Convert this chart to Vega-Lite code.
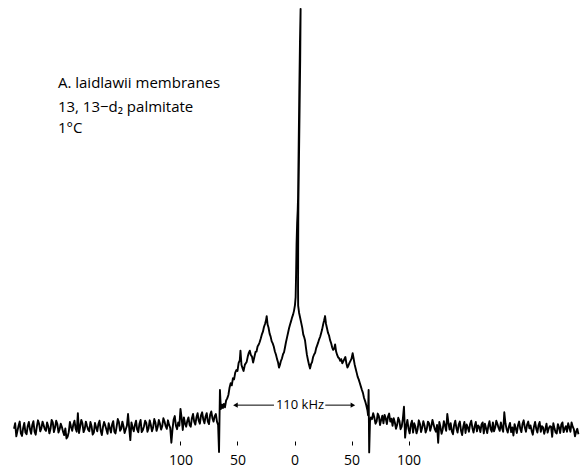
{
  "$schema": "https://vega.github.io/schema/vega-lite/v6.json",
  "width": 584,
  "height": 441,
  "autosize": {"type": "none"},
  "padding": {"left": 0, "right": 0, "top": 0, "bottom": 29},
  "background": "white",
  "config": {
    "view": {"stroke": null},
    "font": "Open Sans",
    "axisX": {"domain": false, "grid": false, "tickSize": 4, "tickColor": "black", "tickWidth": 1, "labelPadding": 8, "labelFontSize": 14, "labelColor": "black", "labelFont": "Open Sans"}
  },
  "datasets": {
    "spectrum": [
      {"khz":-246,"amp":0.3},{"khz":-245,"amp":1.6},{"khz":-244,"amp":-1.5},{"khz":-243,"amp":-0.2},{"khz":-242,"amp":1.0},{"khz":-241,"amp":2.0},{"khz":-240,"amp":-0.8},{"khz":-239,"amp":-1.4},{"khz":-238,"amp":0.5},{"khz":-237,"amp":1.7},
      {"khz":-236,"amp":-0.6},{"khz":-235,"amp":-1.0},{"khz":-234,"amp":0.9},{"khz":-233,"amp":1.9},{"khz":-232,"amp":0.2},{"khz":-231,"amp":-0.9},{"khz":-230,"amp":1.2},{"khz":-229,"amp":2.1},{"khz":-228,"amp":-0.4},{"khz":-227,"amp":-1.1},
      {"khz":-226,"amp":0.8},{"khz":-225,"amp":2.3},{"khz":-224,"amp":1.5},{"khz":-223,"amp":-0.3},{"khz":-222,"amp":0.4},{"khz":-221,"amp":2.0},{"khz":-220,"amp":1.1},{"khz":-219,"amp":0.2},{"khz":-218,"amp":-0.2},{"khz":-217,"amp":1.8},
      {"khz":-216,"amp":0.9},{"khz":-215,"amp":-0.8},{"khz":-214,"amp":0.3},{"khz":-213,"amp":2.4},{"khz":-212,"amp":1.8},{"khz":-211,"amp":-0.5},{"khz":-210,"amp":0.6},{"khz":-209,"amp":2.2},{"khz":-208,"amp":1.4},{"khz":-207,"amp":-0.6},
      {"khz":-206,"amp":0.2},{"khz":-205,"amp":1.5},{"khz":-204,"amp":0.7},{"khz":-203,"amp":-0.4},{"khz":-202,"amp":-1.2},{"khz":-201,"amp":0.4},{"khz":-200,"amp":-2.0},{"khz":-199,"amp":-1.6},{"khz":-198,"amp":-0.5},{"khz":-197,"amp":1.9},
      {"khz":-196,"amp":0.8},{"khz":-195,"amp":-0.2},{"khz":-194,"amp":1.3},{"khz":-193,"amp":2.2},{"khz":-192,"amp":0.4},{"khz":-191,"amp":-0.4},{"khz":-190,"amp":4.0},{"khz":-189,"amp":-0.7},{"khz":-188,"amp":0.8},{"khz":-187,"amp":2.4},
      {"khz":-186,"amp":1.6},{"khz":-185,"amp":-0.5},{"khz":-184,"amp":0.2},{"khz":-183,"amp":2.0},{"khz":-182,"amp":1.0},{"khz":-181,"amp":0.1},{"khz":-180,"amp":-0.3},{"khz":-179,"amp":1.9},{"khz":-178,"amp":0.9},{"khz":-177,"amp":-1.1},
      {"khz":-176,"amp":-0.6},{"khz":-175,"amp":1.7},{"khz":-174,"amp":0.6},{"khz":-173,"amp":-0.3},{"khz":-172,"amp":1.4},{"khz":-171,"amp":2.2},{"khz":-170,"amp":-0.1},{"khz":-169,"amp":-1.2},{"khz":-168,"amp":0.7},{"khz":-167,"amp":1.9},
      {"khz":-166,"amp":1.1},{"khz":-165,"amp":0.1},{"khz":-164,"amp":-0.9},{"khz":-163,"amp":1.6},{"khz":-162,"amp":0.5},{"khz":-161,"amp":-0.6},{"khz":-160,"amp":1.3},{"khz":-159,"amp":2.1},{"khz":-158,"amp":-0.4},{"khz":-157,"amp":-0.8},
      {"khz":-156,"amp":0.8},{"khz":-155,"amp":2.6},{"khz":-154,"amp":1.9},{"khz":-153,"amp":-0.2},{"khz":-152,"amp":0.3},{"khz":-151,"amp":2.0},{"khz":-150,"amp":0.9},{"khz":-149,"amp":-0.7},{"khz":-148,"amp":0.2},{"khz":-147,"amp":1.0},
      {"khz":-146,"amp":3.8},{"khz":-145,"amp":0.5},{"khz":-144,"amp":-2.4},{"khz":-143,"amp":1.8},{"khz":-142,"amp":0.6},{"khz":-141,"amp":-0.3},{"khz":-140,"amp":1.2},{"khz":-139,"amp":2.2},{"khz":-138,"amp":0.1},{"khz":-137,"amp":-0.5},
      {"khz":-136,"amp":1.5},{"khz":-135,"amp":2.4},{"khz":-134,"amp":-0.5},{"khz":-133,"amp":0.0},{"khz":-132,"amp":0.9},{"khz":-131,"amp":2.2},{"khz":-130,"amp":1.7},{"khz":-129,"amp":-0.4},{"khz":-128,"amp":0.4},{"khz":-127,"amp":2.3},
      {"khz":-126,"amp":1.2},{"khz":-125,"amp":-0.3},{"khz":-124,"amp":0.6},{"khz":-123,"amp":2.6},{"khz":-122,"amp":1.8},{"khz":-121,"amp":-0.2},{"khz":-120,"amp":0.7},{"khz":-119,"amp":2.4},{"khz":-118,"amp":1.5},{"khz":-117,"amp":0.1},
      {"khz":-116,"amp":0.9},{"khz":-115,"amp":2.8},{"khz":-114,"amp":2.0},{"khz":-113,"amp":0.9},{"khz":-112,"amp":0.3},{"khz":-111,"amp":2.3},{"khz":-110,"amp":1.2},{"khz":-109,"amp":0.5},{"khz":-108,"amp":-3.0},{"khz":-107,"amp":0.2},
      {"khz":-106,"amp":2.5},{"khz":-105,"amp":3.3},{"khz":-104,"amp":1.0},{"khz":-103,"amp":0.2},{"khz":-102,"amp":1.8},{"khz":-101,"amp":1.0},{"khz":-100,"amp":5.0},{"khz":-99,"amp":2.8},{"khz":-98,"amp":0.0},{"khz":-97,"amp":3.0},
      {"khz":-96,"amp":1.5},{"khz":-95,"amp":0.8},{"khz":-94,"amp":2.2},{"khz":-93,"amp":3.0},{"khz":-92,"amp":1.2},{"khz":-91,"amp":0.8},{"khz":-90,"amp":2.8},{"khz":-89,"amp":3.8},{"khz":-88,"amp":2.0},{"khz":-87,"amp":1.3},
      {"khz":-86,"amp":3.0},{"khz":-85,"amp":4.0},{"khz":-84,"amp":2.2},{"khz":-83,"amp":1.5},{"khz":-82,"amp":3.5},{"khz":-81,"amp":4.2},{"khz":-80,"amp":2.5},{"khz":-79,"amp":1.6},{"khz":-78,"amp":3.2},{"khz":-77,"amp":4.0},
      {"khz":-76,"amp":2.0},{"khz":-75,"amp":1.4},{"khz":-74,"amp":3.6},{"khz":-73,"amp":4.4},{"khz":-72,"amp":2.8},{"khz":-71,"amp":2.0},{"khz":-70,"amp":3.3},{"khz":-69,"amp":3.8},{"khz":-68,"amp":2.0},
      {"khz":-67,"amp":1.2},{"khz":-66.2,"amp":-5.2},{"khz":-65.4,"amp":9.5},{"khz":-64.6,"amp":5.0},{"khz":-63.6,"amp":6.0},{"khz":-62.8,"amp":5.2},{"khz":-62,"amp":6.2},{"khz":-61,"amp":5.4},{"khz":-60,"amp":7.0},{"khz":-59,"amp":7.5},
      {"khz":-58,"amp":8.3},{"khz":-57,"amp":10.0},{"khz":-56,"amp":11.1},{"khz":-55,"amp":10.6},{"khz":-54,"amp":12.3},{"khz":-53,"amp":12.0},{"khz":-52,"amp":13.6},{"khz":-51,"amp":14.2},{"khz":-50,"amp":14.0},{"khz":-49,"amp":15.9},
      {"khz":-48,"amp":16.5},{"khz":-47.4,"amp":18.8},{"khz":-46.5,"amp":15.4},{"khz":-45.5,"amp":14.6},{"khz":-44.7,"amp":14.0},{"khz":-43.5,"amp":15.5},{"khz":-42,"amp":16.1},{"khz":-41,"amp":17.4},{"khz":-40.2,"amp":18.2},{"khz":-39.2,"amp":18.8},
      {"khz":-38.3,"amp":17.8},{"khz":-37.3,"amp":17.4},{"khz":-36.3,"amp":16.0},{"khz":-35.3,"amp":17.2},{"khz":-34.2,"amp":18.5},{"khz":-33.3,"amp":18.6},{"khz":-32.4,"amp":19.8},{"khz":-31.5,"amp":20.2},{"khz":-30.6,"amp":20.8},{"khz":-29.6,"amp":21.7},
      {"khz":-28.7,"amp":22.6},{"khz":-27.7,"amp":23.3},{"khz":-26.8,"amp":24.4},{"khz":-25.8,"amp":25.2},{"khz":-25,"amp":26.0},{"khz":-24.4,"amp":27.0},{"khz":-23.6,"amp":25.0},{"khz":-22.8,"amp":24.3},{"khz":-21.8,"amp":22.8},{"khz":-21,"amp":22.2},
      {"khz":-20,"amp":21.0},{"khz":-19.2,"amp":20.6},{"khz":-18.2,"amp":19.8},{"khz":-17.2,"amp":18.6},{"khz":-16.3,"amp":17.9},{"khz":-15.3,"amp":16.8},{"khz":-14.4,"amp":16.0},{"khz":-13.6,"amp":14.8},{"khz":-12.8,"amp":15.4},{"khz":-12,"amp":16.3},
      {"khz":-11,"amp":17.0},{"khz":-10,"amp":18.0},{"khz":-9.2,"amp":18.4},{"khz":-8.4,"amp":19.5},{"khz":-7.5,"amp":20.8},{"khz":-6.6,"amp":21.9},{"khz":-5.7,"amp":23.0},{"khz":-4.8,"amp":24.1},{"khz":-3.9,"amp":25.0},{"khz":-3,"amp":25.8},
      {"khz":-2.1,"amp":26.7},{"khz":-1.2,"amp":27.4},{"khz":-0.4,"amp":28.3},{"khz":0.4,"amp":29.6},{"khz":1.0,"amp":31.5},{"khz":1.4,"amp":37.0},{"khz":1.8,"amp":44.0},{"khz":2.3,"amp":49.0},{"khz":2.8,"amp":52.0},{"khz":3.1,"amp":55.0},
      {"khz":3.6,"amp":66.0},{"khz":4.2,"amp":80.0},{"khz":4.8,"amp":92.0},{"khz":5.35,"amp":99.8},{"khz":5.0,"amp":88.0},{"khz":4.5,"amp":77.0},{"khz":3.9,"amp":64.0},{"khz":3.4,"amp":54.0},{"khz":3.3,"amp":49.0},{"khz":3.2,"amp":42.0},
      {"khz":3.1,"amp":34.0},{"khz":3.2,"amp":29.5},{"khz":4.0,"amp":27.8},{"khz":4.8,"amp":26.8},{"khz":5.8,"amp":25.5},{"khz":6.8,"amp":24.2},{"khz":7.7,"amp":22.6},{"khz":8.5,"amp":22.0},{"khz":9.2,"amp":21.3},{"khz":10,"amp":19.6},
      {"khz":10.9,"amp":17.8},{"khz":11.8,"amp":16.6},{"khz":12.7,"amp":15.5},{"khz":13.6,"amp":14.6},{"khz":14.5,"amp":15.6},{"khz":15.4,"amp":16.1},{"khz":16.3,"amp":17.3},{"khz":17.2,"amp":17.9},{"khz":18.1,"amp":18.3},{"khz":19,"amp":19.4},
      {"khz":19.8,"amp":20.0},{"khz":20.7,"amp":20.7},{"khz":21.6,"amp":21.5},{"khz":22.5,"amp":22.1},{"khz":23.4,"amp":23.0},{"khz":24.2,"amp":23.8},{"khz":25.1,"amp":25.0},{"khz":26,"amp":26.0},{"khz":26.8,"amp":27.0},{"khz":27.6,"amp":25.2},
      {"khz":28.5,"amp":24.1},{"khz":29.4,"amp":23.0},{"khz":30.3,"amp":22.4},{"khz":31.2,"amp":21.3},{"khz":32.1,"amp":20.6},{"khz":33,"amp":19.6},{"khz":33.9,"amp":19.0},{"khz":34.8,"amp":19.3},{"khz":35.6,"amp":20.3},{"khz":36.5,"amp":18.6},
      {"khz":37.4,"amp":17.8},{"khz":38.3,"amp":17.2},{"khz":39.2,"amp":17.0},{"khz":40.1,"amp":16.4},{"khz":41,"amp":16.8},{"khz":41.9,"amp":15.8},{"khz":42.8,"amp":16.3},{"khz":43.7,"amp":16.8},{"khz":44.6,"amp":17.3},{"khz":45.5,"amp":15.8},
      {"khz":46.4,"amp":14.8},{"khz":47.3,"amp":15.3},{"khz":48.2,"amp":15.9},{"khz":49.1,"amp":16.4},{"khz":50,"amp":16.9},{"khz":51,"amp":18.2},{"khz":51.8,"amp":17.0},{"khz":52.7,"amp":15.6},{"khz":53.6,"amp":14.6},{"khz":54.5,"amp":13.6},
      {"khz":55.4,"amp":12.6},{"khz":56.3,"amp":12.0},{"khz":57.2,"amp":11.2},{"khz":58.1,"amp":10.4},{"khz":59,"amp":9.6},{"khz":60,"amp":8.8},{"khz":61,"amp":7.6},{"khz":62,"amp":6.8},{"khz":63,"amp":5.8},{"khz":64,"amp":4.6},
      {"khz":64.5,"amp":3.5},{"khz":65,"amp":9.5},{"khz":65.5,"amp":-5.3},{"khz":66.2,"amp":2.0},{"khz":67,"amp":3.0},
      {"khz":68,"amp":2.6},{"khz":69,"amp":4.0},{"khz":70,"amp":3.0},{"khz":71,"amp":1.5},{"khz":72,"amp":2.0},{"khz":73,"amp":3.9},{"khz":74,"amp":3.3},{"khz":75,"amp":1.2},{"khz":76,"amp":2.4},{"khz":77,"amp":3.4},
      {"khz":78,"amp":1.6},{"khz":79,"amp":3.6},{"khz":80,"amp":2.8},{"khz":81,"amp":1.4},{"khz":82,"amp":3.2},{"khz":83,"amp":3.9},{"khz":84,"amp":2.0},{"khz":85,"amp":2.7},{"khz":86,"amp":1.0},{"khz":87,"amp":2.8},
      {"khz":88,"amp":1.8},{"khz":89,"amp":0.3},{"khz":90,"amp":1.2},{"khz":91,"amp":2.9},{"khz":92,"amp":2.2},{"khz":93,"amp":0.2},{"khz":94,"amp":0.8},{"khz":95,"amp":2.6},{"khz":96,"amp":5.5},{"khz":97,"amp":-1.8},
      {"khz":98,"amp":1.0},{"khz":99,"amp":2.4},{"khz":100,"amp":0.3},{"khz":101,"amp":-0.8},{"khz":102,"amp":1.3},{"khz":103,"amp":2.2},{"khz":104,"amp":-0.6},{"khz":105,"amp":1.6},{"khz":106,"amp":0.8},{"khz":107,"amp":-0.8},
      {"khz":108,"amp":0.2},{"khz":109,"amp":2.3},{"khz":110,"amp":1.5},{"khz":111,"amp":-0.5},{"khz":112,"amp":0.6},{"khz":113,"amp":2.1},{"khz":114,"amp":1.1},{"khz":115,"amp":-0.6},{"khz":116,"amp":0.2},{"khz":117,"amp":2.0},
      {"khz":118,"amp":1.6},{"khz":119,"amp":-0.2},{"khz":120,"amp":0.9},{"khz":121,"amp":2.4},{"khz":122,"amp":1.3},{"khz":123,"amp":0.2},{"khz":124,"amp":-0.4},{"khz":125,"amp":1.2},{"khz":126,"amp":-3.0},{"khz":127,"amp":1.9},
      {"khz":128,"amp":0.7},{"khz":129,"amp":-0.9},{"khz":130,"amp":0.2},{"khz":131,"amp":2.1},{"khz":132,"amp":1.0},{"khz":133,"amp":-0.2},{"khz":134,"amp":3.8},{"khz":135,"amp":1.7},{"khz":136,"amp":0.1},{"khz":137,"amp":1.6},
      {"khz":138,"amp":-0.3},{"khz":139,"amp":-1.0},{"khz":140,"amp":1.2},{"khz":141,"amp":2.2},{"khz":142,"amp":0.4},{"khz":143,"amp":-0.6},{"khz":144,"amp":1.3},{"khz":145,"amp":2.0},{"khz":146,"amp":-0.1},{"khz":147,"amp":-1.2},
      {"khz":148,"amp":0.8},{"khz":149,"amp":1.9},{"khz":150,"amp":-0.7},{"khz":151,"amp":1.3},{"khz":152,"amp":0.6},{"khz":153,"amp":-0.4},{"khz":154,"amp":1.4},{"khz":155,"amp":2.2},{"khz":156,"amp":0.5},{"khz":157,"amp":-0.6},
      {"khz":158,"amp":0.9},{"khz":159,"amp":1.9},{"khz":160,"amp":-0.3},{"khz":161,"amp":1.1},{"khz":162,"amp":0.7},{"khz":163,"amp":-0.5},{"khz":164,"amp":1.3},{"khz":165,"amp":1.8},{"khz":166,"amp":-0.8},{"khz":167,"amp":1.5},
      {"khz":168,"amp":0.4},{"khz":169,"amp":-0.7},{"khz":170,"amp":1.0},{"khz":171,"amp":2.1},{"khz":172,"amp":0.2},{"khz":173,"amp":-0.4},{"khz":174,"amp":1.8},{"khz":175,"amp":-0.3},{"khz":176,"amp":0.6},{"khz":177,"amp":2.2},
      {"khz":178,"amp":1.4},{"khz":179,"amp":0.5},{"khz":180,"amp":-0.2},{"khz":181,"amp":1.8},{"khz":182,"amp":0.5},{"khz":183,"amp":-0.4},{"khz":184,"amp":4.2},{"khz":185,"amp":1.6},{"khz":186,"amp":0.2},{"khz":187,"amp":-0.6},
      {"khz":188,"amp":0.8},{"khz":189,"amp":1.7},{"khz":190,"amp":-0.5},{"khz":191,"amp":0.6},{"khz":192,"amp":-1.3},{"khz":193,"amp":1.4},{"khz":194,"amp":0.4},{"khz":195,"amp":-0.7},{"khz":196,"amp":1.1},{"khz":197,"amp":2.0},
      {"khz":198,"amp":0.3},{"khz":199,"amp":-0.5},{"khz":200,"amp":1.5},{"khz":201,"amp":2.3},{"khz":202,"amp":0.6},{"khz":203,"amp":-0.4},{"khz":204,"amp":1.3},{"khz":205,"amp":2.0},{"khz":206,"amp":0.4},{"khz":207,"amp":1.1},
      {"khz":208,"amp":-0.2},{"khz":209,"amp":-1.1},{"khz":210,"amp":0.8},{"khz":211,"amp":1.9},{"khz":212,"amp":0.3},{"khz":213,"amp":-0.6},{"khz":214,"amp":1.1},{"khz":215,"amp":1.9},{"khz":216,"amp":-0.4},{"khz":217,"amp":0.9},
      {"khz":218,"amp":0.6},{"khz":219,"amp":-0.9},{"khz":220,"amp":0.2},{"khz":221,"amp":1.5},{"khz":222,"amp":-0.6},{"khz":223,"amp":0.4},{"khz":224,"amp":0.9},{"khz":225,"amp":0.8},{"khz":226,"amp":-1.6},{"khz":227,"amp":1.6},
      {"khz":228,"amp":0.4},{"khz":229,"amp":-0.6},{"khz":230,"amp":-0.8},{"khz":231,"amp":1.4},{"khz":232,"amp":0.6},{"khz":233,"amp":-0.7},{"khz":234,"amp":1.3},{"khz":235,"amp":1.8},{"khz":236,"amp":-0.5},{"khz":237,"amp":0.3},
      {"khz":238,"amp":0.9},{"khz":239,"amp":-0.4},{"khz":240,"amp":1.6},{"khz":241,"amp":0.6},{"khz":242,"amp":-0.4},{"khz":243,"amp":1.8},{"khz":244,"amp":0.8},{"khz":245,"amp":0.2},{"khz":246,"amp":-1.5},{"khz":247,"amp":-0.4},
      {"khz":248,"amp":0.3},{"khz":249,"amp":-1.0}
    ],
    "notes": [
      {"khz": -207.5, "amp": 82.2, "label": "A. laidlawii membranes"},
      {"khz": -207.5, "amp": 76.6, "label": "13, 13−d₂ palmitate"},
      {"khz": -207.5, "amp": 71.6, "label": "1°C"}
    ],
    "splitting": [
      {"khz": 4.8, "amp": 5.9, "label": "110 kHz"}
    ],
    "arrows": [
      {"khz": -52, "khz2": -18, "tip": -51.8, "amp": 5.9, "side": "left"},
      {"khz": 27, "khz2": 51.5, "tip": 51.2, "amp": 5.9, "side": "right"}
    ]
  },
  "layer": [
    {
      "data": {"name": "spectrum"},
      "mark": {"type": "line", "color": "black", "strokeWidth": 1.9, "clip": false, "strokeJoin": "round"},
      "encoding": {
        "x": {"field": "khz", "type": "quantitative", "title": null,
              "scale": {"domain": [-258.3, 253.9], "nice": false, "zero": false},
              "axis": {"values": [-100, -50, 0, 50, 100], "labelExpr": "format(abs(datum.value), 'd')"}},
        "y": {"field": "amp", "type": "quantitative", "title": null,
              "scale": {"domain": [-2.6, 101.9], "nice": false, "zero": false}, "axis": null},
        "order": {"value": null}
      }
    },
    {
      "data": {"name": "notes"},
      "mark": {"type": "text", "align": "left", "baseline": "middle", "fontSize": 15, "font": "Open Sans", "color": "black"},
      "encoding": {
        "x": {"field": "khz", "type": "quantitative", "title": null},
        "y": {"field": "amp", "type": "quantitative", "title": null},
        "text": {"field": "label"}
      }
    },
    {
      "data": {"name": "splitting"},
      "mark": {"type": "text", "align": "center", "baseline": "middle", "fontSize": 13, "font": "Open Sans", "color": "black"},
      "encoding": {
        "x": {"field": "khz", "type": "quantitative", "title": null},
        "y": {"field": "amp", "type": "quantitative", "title": null},
        "text": {"field": "label"}
      }
    },
    {
      "data": {"name": "arrows"},
      "mark": {"type": "rule", "color": "black", "strokeWidth": 1},
      "encoding": {
        "x": {"field": "khz", "type": "quantitative", "title": null},
        "x2": {"field": "khz2"},
        "y": {"field": "amp", "type": "quantitative", "title": null}
      }
    },
    {
      "data": {"name": "arrows"},
      "transform": [{"filter": "datum.side === 'left'"}],
      "mark": {"type": "point", "shape": "triangle-left", "filled": true, "color": "black", "size": 28, "opacity": 1},
      "encoding": {
        "x": {"field": "tip", "type": "quantitative", "title": null},
        "y": {"field": "amp", "type": "quantitative", "title": null}
      }
    },
    {
      "data": {"name": "arrows"},
      "transform": [{"filter": "datum.side === 'right'"}],
      "mark": {"type": "point", "shape": "triangle-right", "filled": true, "color": "black", "size": 28, "opacity": 1},
      "encoding": {
        "x": {"field": "tip", "type": "quantitative", "title": null},
        "y": {"field": "amp", "type": "quantitative", "title": null}
      }
    }
  ]
}
